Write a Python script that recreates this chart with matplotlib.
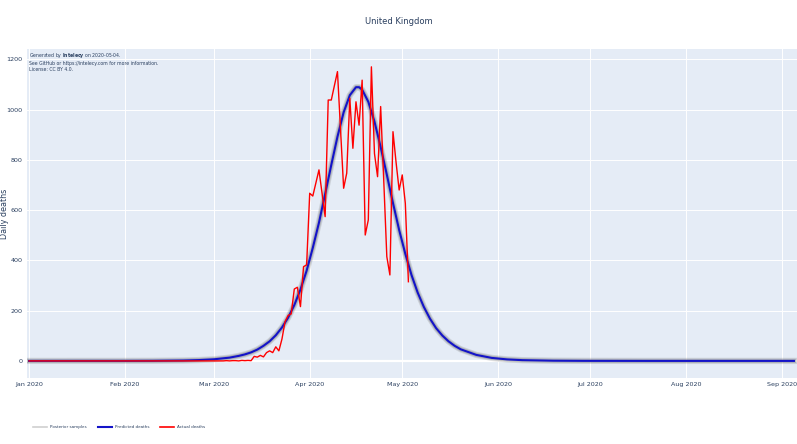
import numpy as np
import matplotlib.pyplot as plt
import matplotlib.dates as mdates
from matplotlib.lines import Line2D

start = np.datetime64('2020-01-01')

# Actual daily deaths, one value per day from 2020-01-01 to 2020-05-03
actual_deaths = [0] * 60 + [
    0, 0, 0, 0, 1, 0, 1, 1, 0, 2, 1, 2,           # Mar 1 - Mar 12
    1, 18, 15, 22, 16, 33, 40, 33, 56, 40,        # Mar 13 - Mar 22
    87, 156, 181, 187, 286, 293, 216, 375, 382,   # Mar 23 - Mar 31
    667, 656, 708, 760, 667, 574, 1038, 1038, 1095, 1151,
    919, 687, 747, 1045, 846, 1031, 938, 1117, 501, 561,
    1170, 825, 733, 1012, 720, 415, 342, 912, 790, 680,   # Apr 1 - Apr 30
    740, 627, 315,                                # May 1 - May 3
]

# Predicted (posterior mean) deaths, read at these day offsets from Jan 1
pred_days = [0, 30, 40, 50, 55, 60, 65, 68, 70, 72, 74, 76, 78, 80, 82, 84, 86,
             88, 90, 92, 94, 96, 98, 100, 102, 104, 106, 107, 108, 110, 112,
             114, 116, 118, 120, 122, 124, 126, 128, 130, 132, 134, 136, 138,
             140, 145, 150, 155, 160, 170, 180, 200, 248]
pred_deaths = [0, 0.1, 0.4, 1.6, 3.3, 6.5, 13, 20, 26, 34, 45, 60, 78, 102, 133, 172, 222,
               284, 359, 450, 550, 664, 780, 892, 989, 1057, 1089, 1089, 1079, 1031, 952,
               851, 741, 628, 521, 426, 342, 272, 215, 168, 130, 101, 78, 60,
               46, 24, 12, 6, 3, 0.8, 0.2, 0, 0]

month_ticks = ['2020-01-01', '2020-02-01', '2020-03-01', '2020-04-01', '2020-05-01',
               '2020-06-01', '2020-07-01', '2020-08-01', '2020-09-01']
y_ticks = [0, 200, 400, 600, 800, 1000, 1200]

actual_dates = start + np.arange(len(actual_deaths)).astype('timedelta64[D]')
pred_dates = start + np.array(pred_days).astype('timedelta64[D]')

txt = '#2a3f5f'
fig = plt.figure(figsize=(7.97, 4.44), dpi=100)
ax = fig.add_axes([27 / 797, 1 - 378 / 444, 770 / 797, (378 - 49.5) / 444])
ax.set_facecolor('#E5ECF6')
for s in ax.spines.values():
    s.set_visible(False)
ax.grid(True, color='white', lw=0.7)
ax.set_axisbelow(True)
ax.axhline(0, color='white', lw=1.6, zorder=0.5)

# posterior samples drawn as a soft grey halo around the prediction
ax.plot(pred_dates, pred_deaths, color='#555555', lw=4.5, alpha=0.18, zorder=2)
ax.plot(pred_dates, pred_deaths, color='#333333', lw=3.0, alpha=0.2, zorder=2)
ax.plot(pred_dates, pred_deaths, color='#1414c8', lw=1.5, zorder=3)
ax.plot(actual_dates, actual_deaths, color='#ff0000', lw=1.0, zorder=4)

ax.set_xlim(np.datetime64('2019-12-31T08'), np.datetime64('2020-09-06'))
ax.set_ylim(-68, 1239)
ax.set_xticks([np.datetime64(d) for d in month_ticks])
ax.xaxis.set_major_formatter(mdates.DateFormatter('%b %Y'))
ax.set_yticks(y_ticks)
ax.tick_params(length=0, labelsize=4.6, colors=txt, pad=3)
ax.set_ylabel('Daily deaths', fontsize=5.8, color=txt)
ax.yaxis.set_label_coords(-0.0235, 0.5)

fig.text(0.5, 1 - 22 / 444, 'United Kingdom', ha='center', va='center',
         fontsize=6, color=txt)

ax.text(0.002, 0.995,
        'Generated by $\\bf{Intelecy}$ on 2020-05-04.\n'
        'See GitHub or https://intelecy.com for more information.\n'
        'License: CC BY 4.0.',
        transform=ax.transAxes, ha='left', va='top', fontsize=3.3,
        color=txt, linespacing=1.25)

handles = [Line2D([], [], color='#d0d0d0', lw=1.2),
           Line2D([], [], color='#1414c8', lw=1.5),
           Line2D([], [], color='red', lw=1.2)]
fig.legend(handles, ['Posterior samples', 'Predicted deaths', 'Actual deaths'],
           loc='center left', bbox_to_anchor=(33 / 797, 1 - 427 / 444), ncol=3,
           frameon=False, fontsize=3.0, labelcolor=txt, handlelength=3.4,
           columnspacing=2.6, handletextpad=0.7, borderpad=0, borderaxespad=0)

fig.savefig('out.png', dpi=100, facecolor='white')
